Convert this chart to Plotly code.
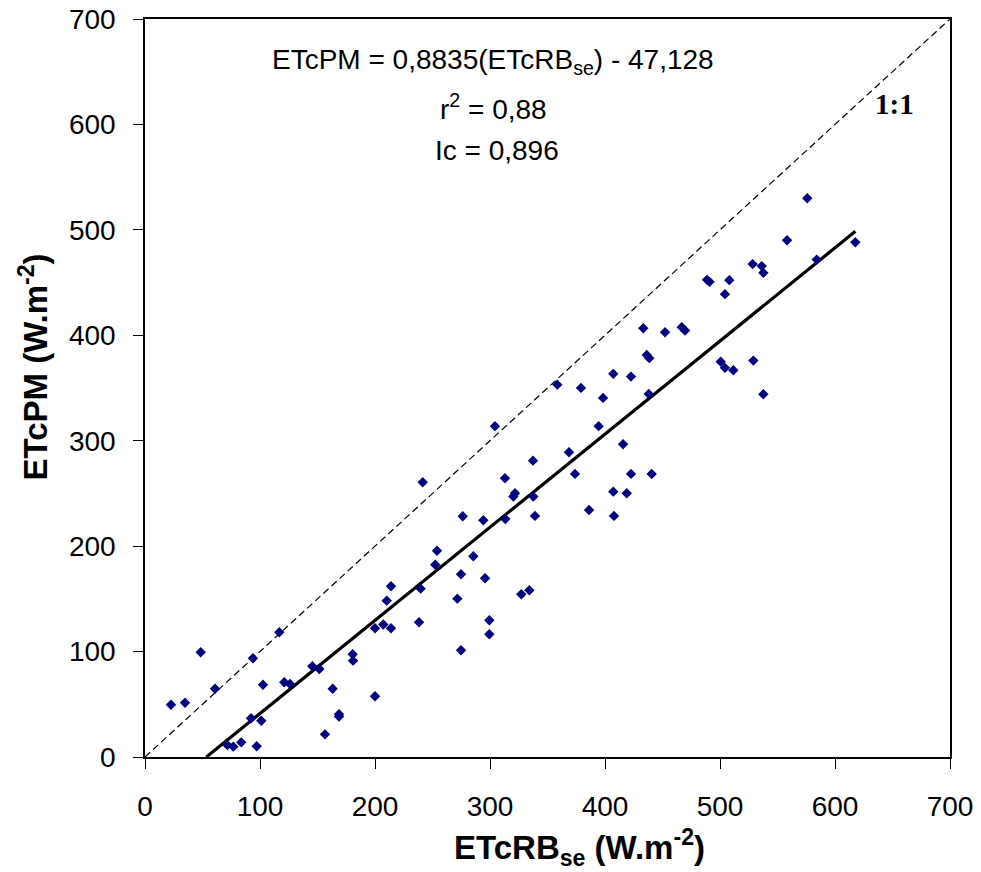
import plotly.graph_objects as go

# Observed pairs: ETcRB_se (x) vs ETcPM (y), W.m-2
etc_rb = [22.6, 34.8, 48.4, 60.9, 93.9, 102.6, 116.8, 121.1, 126.1, 92.2,
          101.1, 71.6, 76.8, 83.7, 97.1, 145.5, 151.6, 163.2, 156.5, 168.7,
          168.7, 180.6, 180.9, 200.0, 200.0, 207.2, 213.9, 210.2, 213.9, 304.3,
          241.5, 313.0, 276.3, 294.2, 253.9, 285.5, 252.4, 274.8, 295.7, 239.7,
          271.6, 313.3, 433.3, 452.2, 466.7, 469.6, 436.3, 438.5, 407.2, 422.6,
          358.5, 379.1, 398.3, 438.0, 394.5, 415.7, 368.7, 337.4, 373.9, 422.6,
          440.6, 321.7, 320.3, 337.7, 407.2, 418.9, 575.9, 558.3, 617.7, 584.1,
          528.4, 536.3, 537.7, 488.7, 490.9, 508.1, 504.3, 500.6, 504.3, 511.6,
          529.0, 537.7, 327.2, 334.2, 238.3, 299.4, 299.4, 274.8, 386.1, 407.8,
          339.1]
etc_pm = [49.6, 51.5, 99.3, 64.8, 93.6, 68.6, 118.3, 70.9, 69.3, 36.7,
          34.4, 11.4, 9.8, 13.9, 10.2, 86.1, 83.5, 64.8, 21.5, 40.5,
          38.4, 97.4, 91.4, 57.6, 122.1, 125.7, 122.1, 148.3, 162.0, 313.8,
          260.6, 264.4, 228.4, 224.6, 195.7, 190.4, 182.4, 173.3, 169.5, 159.7,
          150.2, 225.8, 406.7, 402.9, 407.7, 404.5, 381.4, 378.3, 363.4, 360.8,
          353.2, 350.1, 340.6, 344.4, 313.8, 296.7, 289.1, 281.1, 268.5, 268.5,
          268.5, 250.2, 247.0, 247.0, 251.7, 250.2, 530.0, 490.2, 488.3, 471.8,
          467.5, 465.6, 459.2, 452.6, 450.7, 452.3, 439.0, 375.0, 369.1, 366.9,
          376.0, 344.1, 154.3, 158.2, 127.8, 129.7, 116.4, 101.2, 234.3, 228.7,
          228.7]

# Regression equation shown on the chart
slope = 0.8835
intercept = -47.128
fit_x = [-intercept / slope, 617.7]
fit_y = [slope * v + intercept for v in fit_x]

one_to_one = [0, 700]
ticks = [0, 100, 200, 300, 400, 500, 600, 700]

fig = go.Figure()
fig.add_trace(go.Scatter(x=one_to_one, y=one_to_one, mode="lines",
                         line=dict(color="black", width=1.2, dash="7px,4px"),
                         hoverinfo="skip"))
fig.add_trace(go.Scatter(x=fit_x, y=fit_y, mode="lines",
                         line=dict(color="black", width=3.2),
                         hoverinfo="skip"))
fig.add_trace(go.Scatter(x=etc_rb, y=etc_pm, mode="markers",
                         marker=dict(symbol="diamond", size=8, color="#000080",
                                     line=dict(width=0))))

axis_common = dict(range=[0, 700], tickvals=ticks, showgrid=False, zeroline=False,
                   ticks="outside", ticklen=10, tickwidth=1, tickcolor="black",
                   showline=True, linecolor="black", linewidth=1.5, mirror=True,
                   automargin=False,
                   tickfont=dict(family="Liberation Sans, Arial", size=28, color="black"))

fig.update_layout(
    width=981, height=872,
    margin=dict(l=145, r=31, t=19, b=115),
    paper_bgcolor="white", plot_bgcolor="white",
    showlegend=False,
    font=dict(family="Liberation Sans, Arial", color="black"),
    xaxis=dict(**axis_common, ticklabelstandoff=14),
    yaxis=dict(**axis_common, ticklabelstandoff=12),
)

txt_font = dict(family="Liberation Sans, Arial", size=28, color="black")
fig.add_annotation(text="ETcPM = 0,8835(ETcRB<sub>se</sub>) - 47,128", xref="paper", yref="paper",
                   x=(493 - 145) / 805, y=(757.5 - 62) / 738, showarrow=False,
                   xanchor="center", yanchor="middle", font=txt_font)
fig.add_annotation(text="r<sup>2</sup> = 0,88", xref="paper", yref="paper",
                   x=(493 - 145) / 805, y=(757.5 - 108) / 738, showarrow=False,
                   xanchor="center", yanchor="middle", font=txt_font)
fig.add_annotation(text="Ic = 0,896", xref="paper", yref="paper",
                   x=(497 - 145) / 805, y=(757.5 - 151) / 738, showarrow=False,
                   xanchor="center", yanchor="middle", font=txt_font)
fig.add_annotation(text="<b>1:1</b>", xref="paper", yref="paper",
                   x=(894 - 145) / 805, y=(757.5 - 104) / 738, showarrow=False,
                   xanchor="center", yanchor="middle",
                   font=dict(family="Liberation Serif, Times New Roman", size=29, color="black"))

title_font = dict(family="Liberation Sans, Arial", size=33, color="black")
fig.add_annotation(text="<b>ETcRB<sub>se</sub> (W.m<sup>-2</sup>)</b>", xref="paper", yref="paper",
                   x=(579 - 145) / 805, y=(757.5 - 848) / 738, showarrow=False,
                   xanchor="center", yanchor="middle", font=title_font)
fig.add_annotation(text="<b>ETcPM (W.m<sup>-2</sup>)</b>", xref="paper", yref="paper",
                   x=(33 - 145) / 805, y=(757.5 - 368) / 738, showarrow=False,
                   xanchor="center", yanchor="middle", textangle=-90, font=title_font)

fig.write_html("out.html")
